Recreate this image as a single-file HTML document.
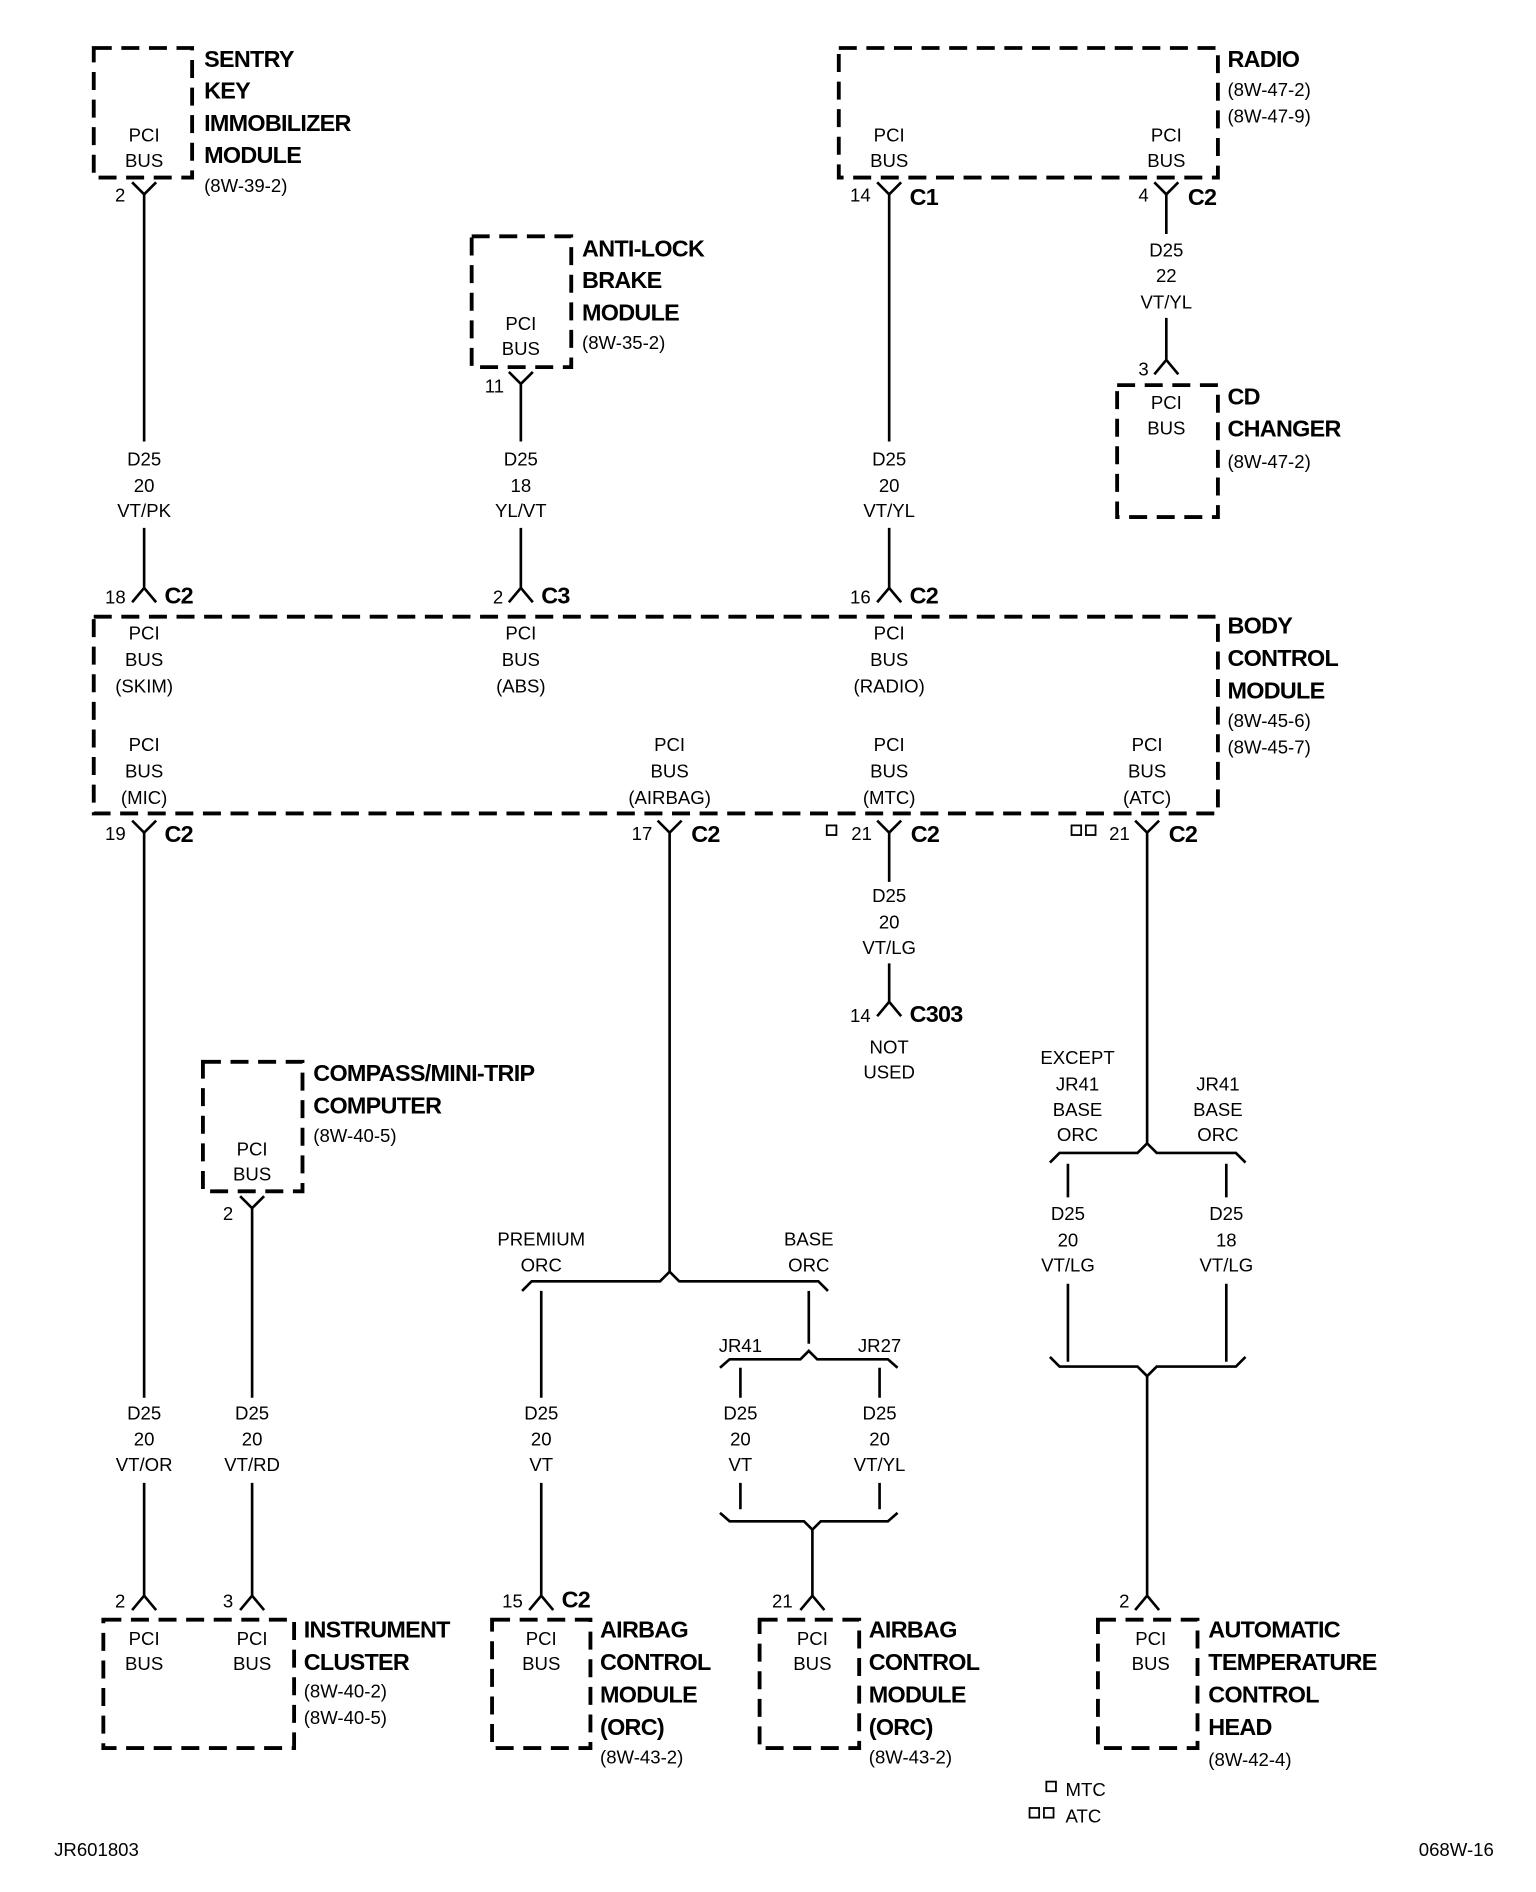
<!DOCTYPE html>
<html><head><meta charset="utf-8"><style>
html,body{margin:0;padding:0;background:#fff}
svg{display:block}
text{font-family:"Liberation Sans Narrow","Liberation Sans",sans-serif;fill:#000}
.s{font-size:15.5px;text-anchor:middle}
.l{font-size:15.5px}
.b{font-size:19.5px;font-weight:bold;letter-spacing:-0.6px;font-family:"Liberation Sans Narrow","Liberation Sans",sans-serif}
.box{fill:none;stroke:#000;stroke-width:3.2;stroke-dasharray:15 8}
.w{fill:none;stroke:#000;stroke-width:2.2}
</style></head><body>
<svg width="1536" height="1892" viewBox="0 0 1280 1577" xmlns="http://www.w3.org/2000/svg">
<rect class="box" x="78" y="40" width="82" height="108"/>
<rect class="box" x="393" y="197" width="83" height="109"/>
<rect class="box" x="699" y="40" width="316" height="108"/>
<rect class="box" x="931" y="321" width="84" height="110"/>
<rect class="box" x="78" y="514" width="937" height="164"/>
<rect class="box" x="169" y="885" width="83" height="108"/>
<rect class="box" x="86" y="1350" width="159" height="107"/>
<rect class="box" x="410" y="1350" width="82" height="107"/>
<rect class="box" x="633" y="1350" width="83" height="107"/>
<rect class="box" x="915" y="1350" width="83" height="107"/>

<g class="w">
<path d="M110 152 L120 162 L130 152 M120 162 V368 M120 440 V490 M110 502 L120 490 L130 502"/>
<path d="M424 310 L434 320 L444 310 M434 320 V368 M434 440 V490 M424 502 L434 490 L444 502"/>
<path d="M731 152 L741 162 L751 152 M741 162 V368 M741 440 V490 M731 502 L741 490 L751 502"/>
<path d="M962 152 L972 162 L982 152 M972 162 V195 M972 265 V300 M962 312 L972 300 L982 312"/>
<path d="M110 684 L120 694 L130 684 M120 694 V1165 M120 1236 V1330 M110 1342 L120 1330 L130 1342"/>
<path d="M548 684 L558 694 L568 684 M558 694 V1060"/>
<path d="M435 1076 L443 1068 L550 1068 L558 1060 L566 1068 L682 1068 L690 1076"/>
<path d="M451 1076 V1165 M451 1236 V1330 M441 1342 L451 1330 L461 1342"/>
<path d="M674 1076 V1120"/>
<path d="M600 1140 L608 1133 L667 1133 L674 1126 L681 1133 L740 1133 L748 1140"/>
<path d="M617 1140 V1165 M733 1140 V1165 M617 1236 V1258 M733 1236 V1258"/>
<path d="M600 1261 L608 1268 L670 1268 L677 1275 L684 1268 L740 1268 L748 1261"/>
<path d="M677 1275 V1330 M667 1342 L677 1330 L687 1342"/>
<path d="M731 684 L741 694 L751 684 M741 694 V735 M741 803 V835 M731 847 L741 835 L751 847"/>
<path d="M946 684 L956 694 L966 684 M956 694 V953"/>
<path d="M875 969 L883 961 L948 961 L956 953 L964 961 L1030 961 L1038 969"/>
<path d="M890 970 V998 M1022 970 V998 M890 1070 V1135 M1022 1070 V1135"/>
<path d="M875 1131 L883 1139 L948 1139 L956 1147 L964 1139 L1030 1139 L1038 1131"/>
<path d="M956 1147 V1330 M946 1342 L956 1330 L966 1342"/>
<path d="M200 997 L210 1007 L220 997 M210 1007 V1165 M210 1236 V1330 M200 1342 L210 1330 L220 1342"/>
</g>
<rect x="689" y="688" width="8" height="8" fill="none" stroke="#000" stroke-width="1.5"/>
<rect x="893" y="688" width="8" height="8" fill="none" stroke="#000" stroke-width="1.5"/>
<rect x="905" y="688" width="8" height="8" fill="none" stroke="#000" stroke-width="1.5"/>
<rect x="872" y="1485" width="8" height="8" fill="none" stroke="#000" stroke-width="1.5"/>
<rect x="858" y="1507" width="8" height="8" fill="none" stroke="#000" stroke-width="1.5"/>
<rect x="870" y="1507" width="8" height="8" fill="none" stroke="#000" stroke-width="1.5"/>

<g class="b">
<text x="170" y="56">SENTRY</text><text x="170" y="82">KEY</text><text x="170" y="109">IMMOBILIZER</text><text x="170" y="136">MODULE</text>
<text x="485" y="214">ANTI-LOCK</text><text x="485" y="240">BRAKE</text><text x="485" y="267">MODULE</text>
<text x="1023" y="56">RADIO</text>
<text x="1023" y="337">CD</text><text x="1023" y="364">CHANGER</text>
<text x="1023" y="528">BODY</text><text x="1023" y="555">CONTROL</text><text x="1023" y="582">MODULE</text>
<text x="261" y="901">COMPASS/MINI-TRIP</text><text x="261" y="928">COMPUTER</text>
<text x="253" y="1365">INSTRUMENT</text><text x="253" y="1392">CLUSTER</text>
<text x="500" y="1365">AIRBAG</text><text x="500" y="1392">CONTROL</text><text x="500" y="1419">MODULE</text><text x="500" y="1446">(ORC)</text>
<text x="724" y="1365">AIRBAG</text><text x="724" y="1392">CONTROL</text><text x="724" y="1419">MODULE</text><text x="724" y="1446">(ORC)</text>
<text x="1007" y="1365">AUTOMATIC</text><text x="1007" y="1392">TEMPERATURE</text><text x="1007" y="1419">CONTROL</text><text x="1007" y="1446">HEAD</text>
<text x="137" y="503">C2</text><text x="451" y="503">C3</text><text x="758" y="503">C2</text>
<text x="758" y="171">C1</text><text x="990" y="171">C2</text>
<text x="137" y="702">C2</text><text x="576" y="702">C2</text><text x="759" y="702">C2</text><text x="974" y="702">C2</text>
<text x="758" y="852">C303</text><text x="468" y="1340">C2</text>
</g>

<g class="l">
<text x="170" y="160">(8W-39-2)</text>
<text x="485" y="291">(8W-35-2)</text>
<text x="1023" y="80">(8W-47-2)</text><text x="1023" y="102">(8W-47-9)</text>
<text x="1023" y="390">(8W-47-2)</text>
<text x="1023" y="606">(8W-45-6)</text><text x="1023" y="628">(8W-45-7)</text>
<text x="261" y="952">(8W-40-5)</text>
<text x="253" y="1415">(8W-40-2)</text><text x="253" y="1437">(8W-40-5)</text>
<text x="500" y="1470">(8W-43-2)</text><text x="724" y="1470">(8W-43-2)</text>
<text x="1007" y="1472">(8W-42-4)</text>
<text x="888" y="1497">MTC</text><text x="888" y="1519">ATC</text>
<text x="45" y="1547">JR601803</text>
<text x="1245" y="1547" text-anchor="end">068W-16</text>
</g>

<g class="s">
<text x="120" y="118">PCI</text><text x="120" y="139">BUS</text>
<text x="434" y="275">PCI</text><text x="434" y="296">BUS</text>
<text x="741" y="118">PCI</text><text x="741" y="139">BUS</text>
<text x="972" y="118">PCI</text><text x="972" y="139">BUS</text>
<text x="972" y="341">PCI</text><text x="972" y="362">BUS</text>
<text x="120" y="533">PCI</text><text x="120" y="555">BUS</text><text x="120" y="577">(SKIM)</text>
<text x="434" y="533">PCI</text><text x="434" y="555">BUS</text><text x="434" y="577">(ABS)</text>
<text x="741" y="533">PCI</text><text x="741" y="555">BUS</text><text x="741" y="577">(RADIO)</text>
<text x="120" y="626">PCI</text><text x="120" y="648">BUS</text><text x="120" y="670">(MIC)</text>
<text x="558" y="626">PCI</text><text x="558" y="648">BUS</text><text x="558" y="670">(AIRBAG)</text>
<text x="741" y="626">PCI</text><text x="741" y="648">BUS</text><text x="741" y="670">(MTC)</text>
<text x="956" y="626">PCI</text><text x="956" y="648">BUS</text><text x="956" y="670">(ATC)</text>
<text x="210" y="963">PCI</text><text x="210" y="984">BUS</text>
<text x="120" y="1371">PCI</text><text x="120" y="1392">BUS</text>
<text x="210" y="1371">PCI</text><text x="210" y="1392">BUS</text>
<text x="451" y="1371">PCI</text><text x="451" y="1392">BUS</text>
<text x="677" y="1371">PCI</text><text x="677" y="1392">BUS</text>
<text x="959" y="1371">PCI</text><text x="959" y="1392">BUS</text>
<text x="120" y="388">D25</text><text x="120" y="410">20</text><text x="120" y="431">VT/PK</text>
<text x="434" y="388">D25</text><text x="434" y="410">18</text><text x="434" y="431">YL/VT</text>
<text x="741" y="388">D25</text><text x="741" y="410">20</text><text x="741" y="431">VT/YL</text>
<text x="972" y="214">D25</text><text x="972" y="235">22</text><text x="972" y="257">VT/YL</text>
<text x="741" y="752">D25</text><text x="741" y="774">20</text><text x="741" y="795">VT/LG</text>
<text x="741" y="878">NOT</text><text x="741" y="899">USED</text>
<text x="898" y="887">EXCEPT</text><text x="898" y="909">JR41</text><text x="898" y="930">BASE</text><text x="898" y="951">ORC</text>
<text x="1015" y="909">JR41</text><text x="1015" y="930">BASE</text><text x="1015" y="951">ORC</text>
<text x="890" y="1017">D25</text><text x="890" y="1039">20</text><text x="890" y="1060">VT/LG</text>
<text x="1022" y="1017">D25</text><text x="1022" y="1039">18</text><text x="1022" y="1060">VT/LG</text>
<text x="451" y="1038">PREMIUM</text><text x="451" y="1060">ORC</text>
<text x="674" y="1038">BASE</text><text x="674" y="1060">ORC</text>
<text x="617" y="1127">JR41</text><text x="733" y="1127">JR27</text>
<text x="120" y="1183">D25</text><text x="120" y="1205">20</text><text x="120" y="1226">VT/OR</text>
<text x="210" y="1183">D25</text><text x="210" y="1205">20</text><text x="210" y="1226">VT/RD</text>
<text x="451" y="1183">D25</text><text x="451" y="1205">20</text><text x="451" y="1226">VT</text>
<text x="617" y="1183">D25</text><text x="617" y="1205">20</text><text x="617" y="1226">VT</text>
<text x="733" y="1183">D25</text><text x="733" y="1205">20</text><text x="733" y="1226">VT/YL</text>
<text x="100" y="168">2</text><text x="412" y="327">11</text>
<text x="717" y="168">14</text><text x="953" y="168">4</text><text x="953" y="313">3</text>
<text x="96" y="503">18</text><text x="415" y="503">2</text><text x="717" y="503">16</text>
<text x="96" y="700">19</text><text x="535" y="700">17</text><text x="718" y="700">21</text><text x="933" y="700">21</text>
<text x="717" y="852">14</text><text x="190" y="1017">2</text>
<text x="100" y="1340">2</text><text x="190" y="1340">3</text><text x="427" y="1340">15</text><text x="652" y="1340">21</text><text x="937" y="1340">2</text>
</g>
</svg>
</body></html>
